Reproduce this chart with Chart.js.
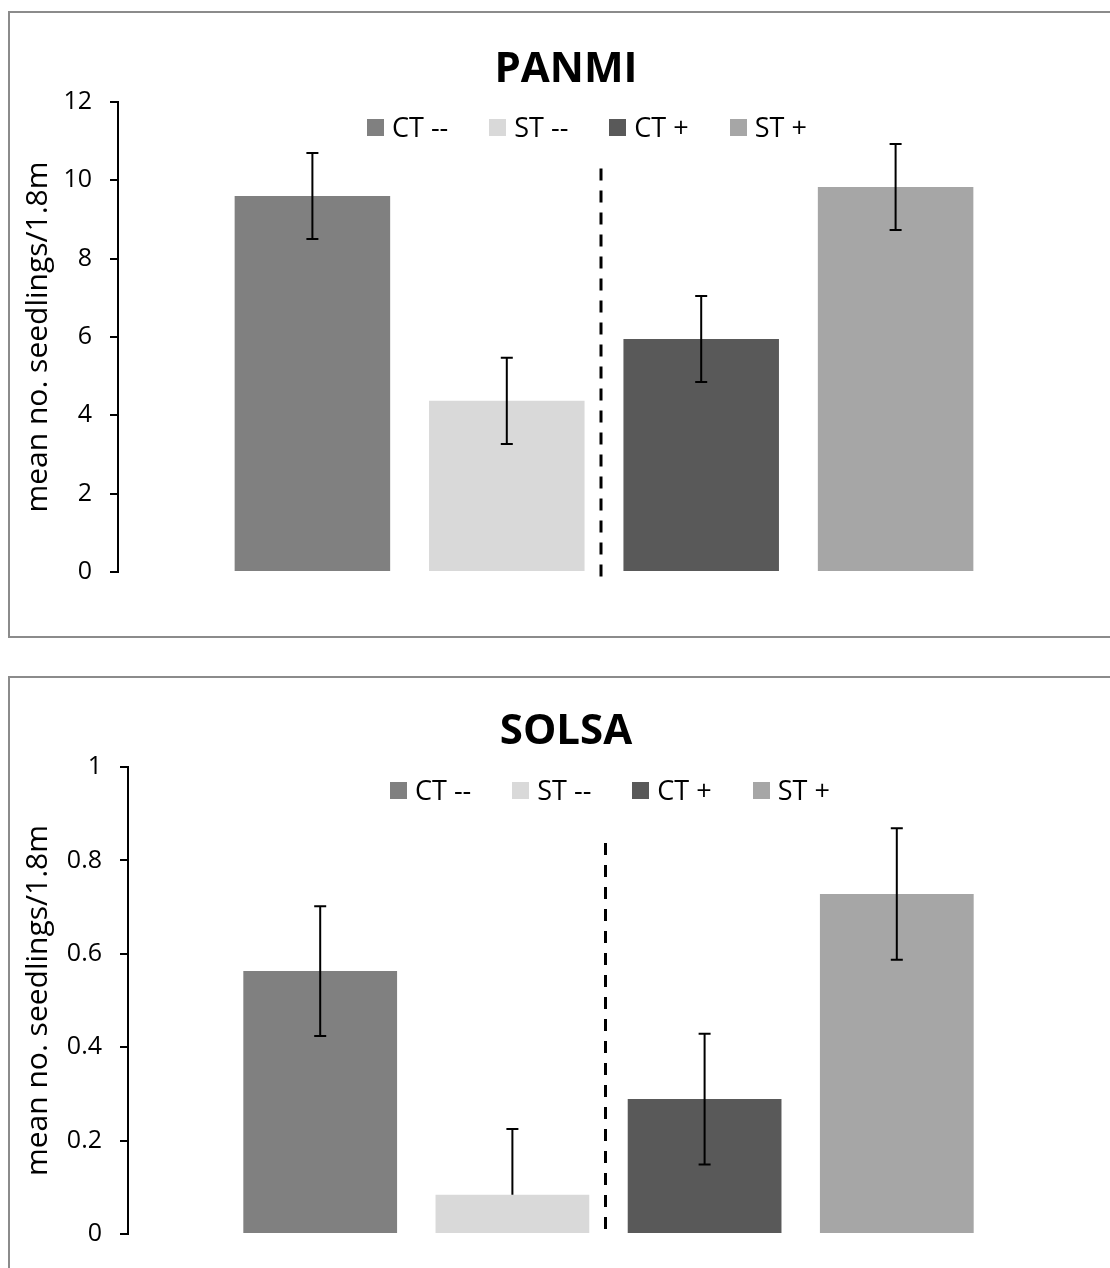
<!DOCTYPE html>
<html>
<head>
<meta charset="utf-8">
<script src="https://cdn.jsdelivr.net/npm/chart.js@4.4.1/dist/chart.umd.min.js"></script>
<style>
  body { margin: 0; background: #fff; overflow: hidden; font-family: 'Open Sans', sans-serif; color: #000; }
  .panel { position: absolute; left: 8px; width: 1116px; border: 2px solid #8b8b8b; background: #fff; }
  .panel canvas { position: absolute; left: 0; top: 0; }
  .chart-title { position: absolute; left: 0; width: 1112px; text-align: center; font-weight: bold; font-size: 42px; line-height: 46px; }
  .legend { position: absolute; display: flex; align-items: center; gap: 41px; font-size: 27px; line-height: 28px; white-space: nowrap; }
  .legend .item { display: flex; align-items: center; }
  .legend i { display: inline-block; width: 17px; height: 17px; margin-right: 8px; }
</style>
</head>
<body>
<div class="panel" style="top:11px;height:623px">
  <canvas id="panmi" width="1116" height="623"></canvas>
  <div class="chart-title" style="top:30px">PANMI</div>
  <div class="legend" id="panmi-legend" style="left:357px;top:100px"></div>
</div>
<div class="panel" style="top:676px;height:600px">
  <canvas id="solsa" width="1116" height="600"></canvas>
  <div class="chart-title" style="top:27px">SOLSA</div>
  <div class="legend" id="solsa-legend" style="left:380px;top:98px"></div>
</div>
<script>
// treatments, same order in both charts
const series = ['CT --', 'ST --', 'CT +', 'ST +'];
const colors = ['#808080', '#d9d9d9', '#595959', '#a6a6a6'];

const panmiMeans = [9.6, 4.37, 5.95, 9.83];
const panmiErr = [1.1, 1.1, 1.1, 1.1];
const panmiTicks = [0, 2, 4, 6, 8, 10, 12];

const solsaMeans = [0.563, 0.084, 0.289, 0.728];
const solsaErr = [0.139, 0.141, 0.14, 0.141];
const solsaTicks = [0, 0.2, 0.4, 0.6, 0.8, 1];

const yTitle = 'mean no. seedlings/1.8m';

// error bars (only the upper half when the lower one would go below zero)
const errorBars = {
  id: 'errorBars',
  afterDatasetsDraw(chart) {
    const { ctx } = chart;
    const y = chart.scales.y;
    ctx.save();
    ctx.strokeStyle = '#000';
    ctx.lineWidth = 2;
    chart.data.datasets.forEach((ds, i) => {
      const bar = chart.getDatasetMeta(i).data[0];
      const m = ds.data[0], e = ds.err;
      const hasLow = m - e >= 0;
      const top = y.getPixelForValue(m + e);
      const bot = y.getPixelForValue(hasLow ? m - e : m);
      ctx.beginPath();
      ctx.moveTo(bar.x, top); ctx.lineTo(bar.x, bot);
      ctx.moveTo(bar.x - 6, top); ctx.lineTo(bar.x + 6, top);
      if (hasLow) { ctx.moveTo(bar.x - 6, bot); ctx.lineTo(bar.x + 6, bot); }
      ctx.stroke();
    });
    ctx.restore();
  }
};

// dashed separator between the -- and + groups
const divider = {
  id: 'divider',
  afterDatasetsDraw(chart, args, opts) {
    const { ctx } = chart;
    const x = chart.scales.x.getPixelForValue(0) - 3;
    ctx.save();
    ctx.strokeStyle = '#000';
    ctx.lineWidth = 3;
    ctx.setLineDash([12, 10]);
    ctx.beginPath();
    ctx.moveTo(x, chart.scales.y.getPixelForValue(opts.from));
    ctx.lineTo(x, chart.scales.y.getPixelForValue(opts.to));
    ctx.stroke();
    ctx.restore();
  }
};

Chart.defaults.font.family = "'Open Sans', sans-serif";
Chart.defaults.color = '#000';

function makeLegend(id) {
  const el = document.getElementById(id);
  series.forEach((name, i) => {
    const item = document.createElement('span');
    item.className = 'item';
    item.innerHTML = `<i style="background:${colors[i]}"></i>${name}`;
    el.appendChild(item);
  });
}

function makeChart(id, means, errs, ticks, padding, axisWidth, dividerRange) {
  return new Chart(document.getElementById(id), {
    type: 'bar',
    data: {
      labels: [''],
      datasets: series.map((name, i) => ({
        label: name,
        data: [means[i]],
        err: errs[i],
        backgroundColor: colors[i]
      }))
    },
    options: {
      responsive: false,
      animation: false,
      layout: { padding },
      categoryPercentage: 0.8,
      barPercentage: 0.8,
      plugins: {
        legend: { display: false },
        tooltip: { enabled: false },
        divider: dividerRange
      },
      scales: {
        x: { display: false },
        y: {
          min: ticks[0],
          max: ticks[ticks.length - 1],
          afterBuildTicks: s => { s.ticks = ticks.map(v => ({ value: v })); },
          afterFit: s => { s.width = axisWidth; },
          ticks: { font: { size: 25 }, padding: 18, callback: v => String(v) },
          grid: { drawOnChartArea: false, color: '#000', lineWidth: 2, tickLength: 8 },
          border: { color: '#000', width: 2 },
          title: { display: true, text: yTitle, font: { size: 30 }, padding: { top: 10 } }
        }
      }
    },
    plugins: [errorBars, divider]
  });
}

makeLegend('panmi-legend');
makeLegend('solsa-legend');
makeChart('panmi', panmiMeans, panmiErr, panmiTicks, { left: 0, right: 36, top: 89, bottom: 64 }, 108, { from: 10.3, to: -0.15 });
makeChart('solsa', solsaMeans, solsaErr, solsaTicks, { left: 0, right: 37, top: 89, bottom: 44 }, 118, { from: 0.837, to: 0.008 });
</script>
</body>
</html>
